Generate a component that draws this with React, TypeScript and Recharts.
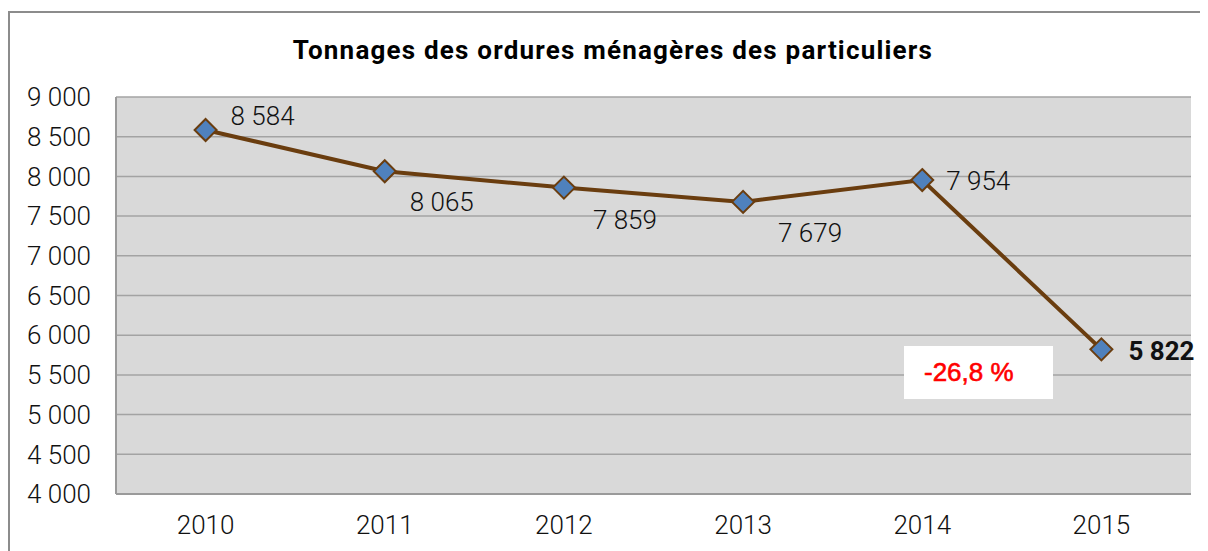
import { LineChart, Line, XAxis, YAxis, CartesianGrid, LabelList } from "recharts";

const years = ["2010", "2011", "2012", "2013", "2014", "2015"];
const tonnages = [8584, 8065, 7859, 7679, 7954, 5822];
const yTicks = [4000, 4500, 5000, 5500, 6000, 6500, 7000, 7500, 8000, 8500, 9000];

// label placement relative to each point (dx, dy to baseline)
const labelOffsets = [
    [25, -5],
    [25, 40],
    [29, 41],
    [35, 40],
    [24, 10],
    [27, 11],
];

const chartData = years.map((year, i) => ({ year, value: tonnages[i] }));

const fmt = (v: number) => String(v).replace(/\B(?=(\d{3})+(?!\d))/g, " ");

const FONT = "Roboto, 'DejaVu Sans', sans-serif";

function Diamond(props: any) {
    const { cx, cy } = props;
    if (cx == null || cy == null) return null;
    const r = 11;
    return (
        <polygon
            points={`${cx},${cy - r} ${cx + r},${cy} ${cx},${cy + r} ${cx - r},${cy}`}
            fill="#4f81bd"
            stroke="#6a3d0f"
            strokeWidth={2}
        />
    );
}

function PointLabel(props: any) {
    const { x, y, value, index } = props;
    const [dx, dy] = labelOffsets[index];
    const last = index === tonnages.length - 1;
    return (
        <text
            x={x + dx}
            y={y + dy}
            fontFamily={FONT}
            fontSize={26}
            fontWeight={last ? 700 : 300}
            fill="#111"
        >
            {fmt(value)}
        </text>
    );
}

export default function App() {
    return (
        <div style={{ position: "relative", width: 1200, height: 543 }}>
            <div
                style={{
                    position: "absolute",
                    left: 0,
                    top: 3,
                    width: 1200,
                    height: 540,
                    borderTop: "2px solid #8c8c8c",
                    borderLeft: "2px solid #8c8c8c",
                    boxSizing: "border-box",
                }}
            />
            <div
                style={{
                    position: "absolute",
                    left: 0,
                    top: 29,
                    width: 1210,
                    textAlign: "center",
                    fontFamily: FONT,
                    fontWeight: 700,
                    fontSize: 26,
                    lineHeight: "26px",
                    letterSpacing: 1.2,
                    color: "#000",
                }}
            >
                Tonnages des ordures ménagères des particuliers
            </div>
            <div style={{ position: "absolute", left: 0, top: 0 }}>
                <LineChart
                    width={1200}
                    height={543}
                    data={chartData}
                    margin={{ top: 89, right: 17, bottom: 17, left: 0 }}
                >
                    <CartesianGrid vertical={false} fill="#d9d9d9" stroke="#a3a3a3" strokeWidth={1.5} />
                    <XAxis
                        dataKey="year"
                        padding={{ left: 89.6, right: 89.6 }}
                        axisLine={{ stroke: "#9a9a9a", strokeWidth: 2 }}
                        tickLine={false}
                        tickSize={0}
                        tickMargin={22}
                        height={40}
                        tick={{ fontFamily: FONT, fontSize: 26, fontWeight: 300, fill: "#111" }}
                    />
                    <YAxis
                        domain={[4000, 9000]}
                        ticks={yTicks}
                        interval={0}
                        width={108}
                        axisLine={{ stroke: "#9a9a9a", strokeWidth: 2 }}
                        tickLine={false}
                        tickSize={0}
                        tickMargin={25}
                        tickFormatter={fmt}
                        tick={{ fontFamily: FONT, fontSize: 26, fontWeight: 300, fill: "#111" }}
                    />
                    <Line
                        dataKey="value"
                        stroke="#6a3d0f"
                        strokeWidth={4}
                        dot={<Diamond />}
                        activeDot={false}
                        isAnimationActive={false}
                    >
                        <LabelList dataKey="value" content={<PointLabel />} />
                    </Line>
                </LineChart>
            </div>
            <div
                style={{
                    position: "absolute",
                    left: 896,
                    top: 338,
                    width: 149,
                    height: 53,
                    background: "#fff",
                }}
            >
                <div
                    style={{
                        position: "absolute",
                        left: 20,
                        top: 13,
                        fontFamily: "'Liberation Sans', Arial, sans-serif",
                        fontSize: 26,
                        lineHeight: "26px",
                        color: "#ff0000",
                        whiteSpace: "nowrap",
                        WebkitTextStroke: "0.6px #ff0000",
                    }}
                >
                    -26,8 %
                </div>
            </div>
        </div>
    );
}
